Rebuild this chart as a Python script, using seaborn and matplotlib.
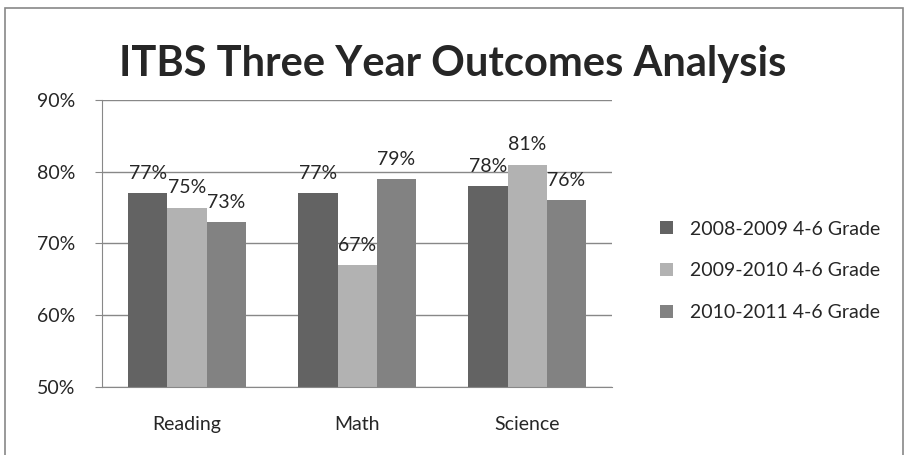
import seaborn as sns
import pandas as pd
import matplotlib.pyplot as plt
from matplotlib.patches import Rectangle

SUBJECTS = ["Reading", "Math", "Science"]
YEARS = ["2008-2009 4-6 Grade", "2009-2010 4-6 Grade", "2010-2011 4-6 Grade"]
SCORES_2008 = [77, 77, 78]
SCORES_2009 = [75, 67, 81]
SCORES_2010 = [73, 79, 76]
COLORS = ["#636363", "#b2b2b2", "#828282"]

if __name__ == "__main__":
    # Data
    rows = []
    for year, scores in zip(YEARS, [SCORES_2008, SCORES_2009, SCORES_2010]):
        for subject, score in zip(SUBJECTS, scores):
            rows.append({"Subject": subject, "Year": year, "Score": score})
    dataDF = pd.DataFrame(rows)

    sns.set_style("white")
    plt.rcParams["font.family"] = ["Lato", "DejaVu Sans"]

    fig = plt.figure(figsize=(9.06, 4.55), dpi=100)
    ax = fig.add_axes([0.1126, 0.1495, 0.563, 0.6308])

    sns.barplot(data=dataDF, x="Subject", y="Score", hue="Year", palette=COLORS,
                width=0.69, saturation=1, linewidth=0, ax=ax, legend=True)

    ax.set_ylim(50, 90)
    ax.set_yticks([50, 60, 70, 80, 90])
    ax.set_yticklabels([f"{v}%" for v in range(50, 100, 10)], fontsize=14)
    ax.tick_params(axis="x", labelsize=14, length=0, pad=21)
    ax.tick_params(axis="y", length=5, color="#888888", direction="out", left=True, pad=14)
    ax.set_xlabel("")
    ax.set_ylabel("")
    ax.yaxis.grid(True, color="#888888", linewidth=1)
    ax.set_axisbelow(True)
    for side in ["top", "right"]:
        ax.spines[side].set_visible(False)
    for side in ["left", "bottom"]:
        ax.spines[side].set_color("#888888")

    # Data labels
    for container in ax.containers:
        ax.bar_label(container, labels=[f"{v:.0f}%" for v in container.datavalues],
                     fontsize=14, padding=8)

    # Legend
    ax.legend(loc="center left", bbox_to_anchor=(1.06, 0.405), frameon=False,
              fontsize=14, handlelength=0.65, handleheight=0.65, labelspacing=1.27,
              handletextpad=0.9)

    fig.suptitle("ITBS Three Year Outcomes Analysis", fontsize=30, fontweight="bold",
                 x=0.5, y=0.902)

    # Outer chart border
    fig.patches.append(Rectangle((5 / 906, -0.05), 898 / 906, 1.05 - 8 / 455,
                                 transform=fig.transFigure, fill=False,
                                 edgecolor="#888888", linewidth=1.2))

    plt.savefig("out.png", dpi=100)
